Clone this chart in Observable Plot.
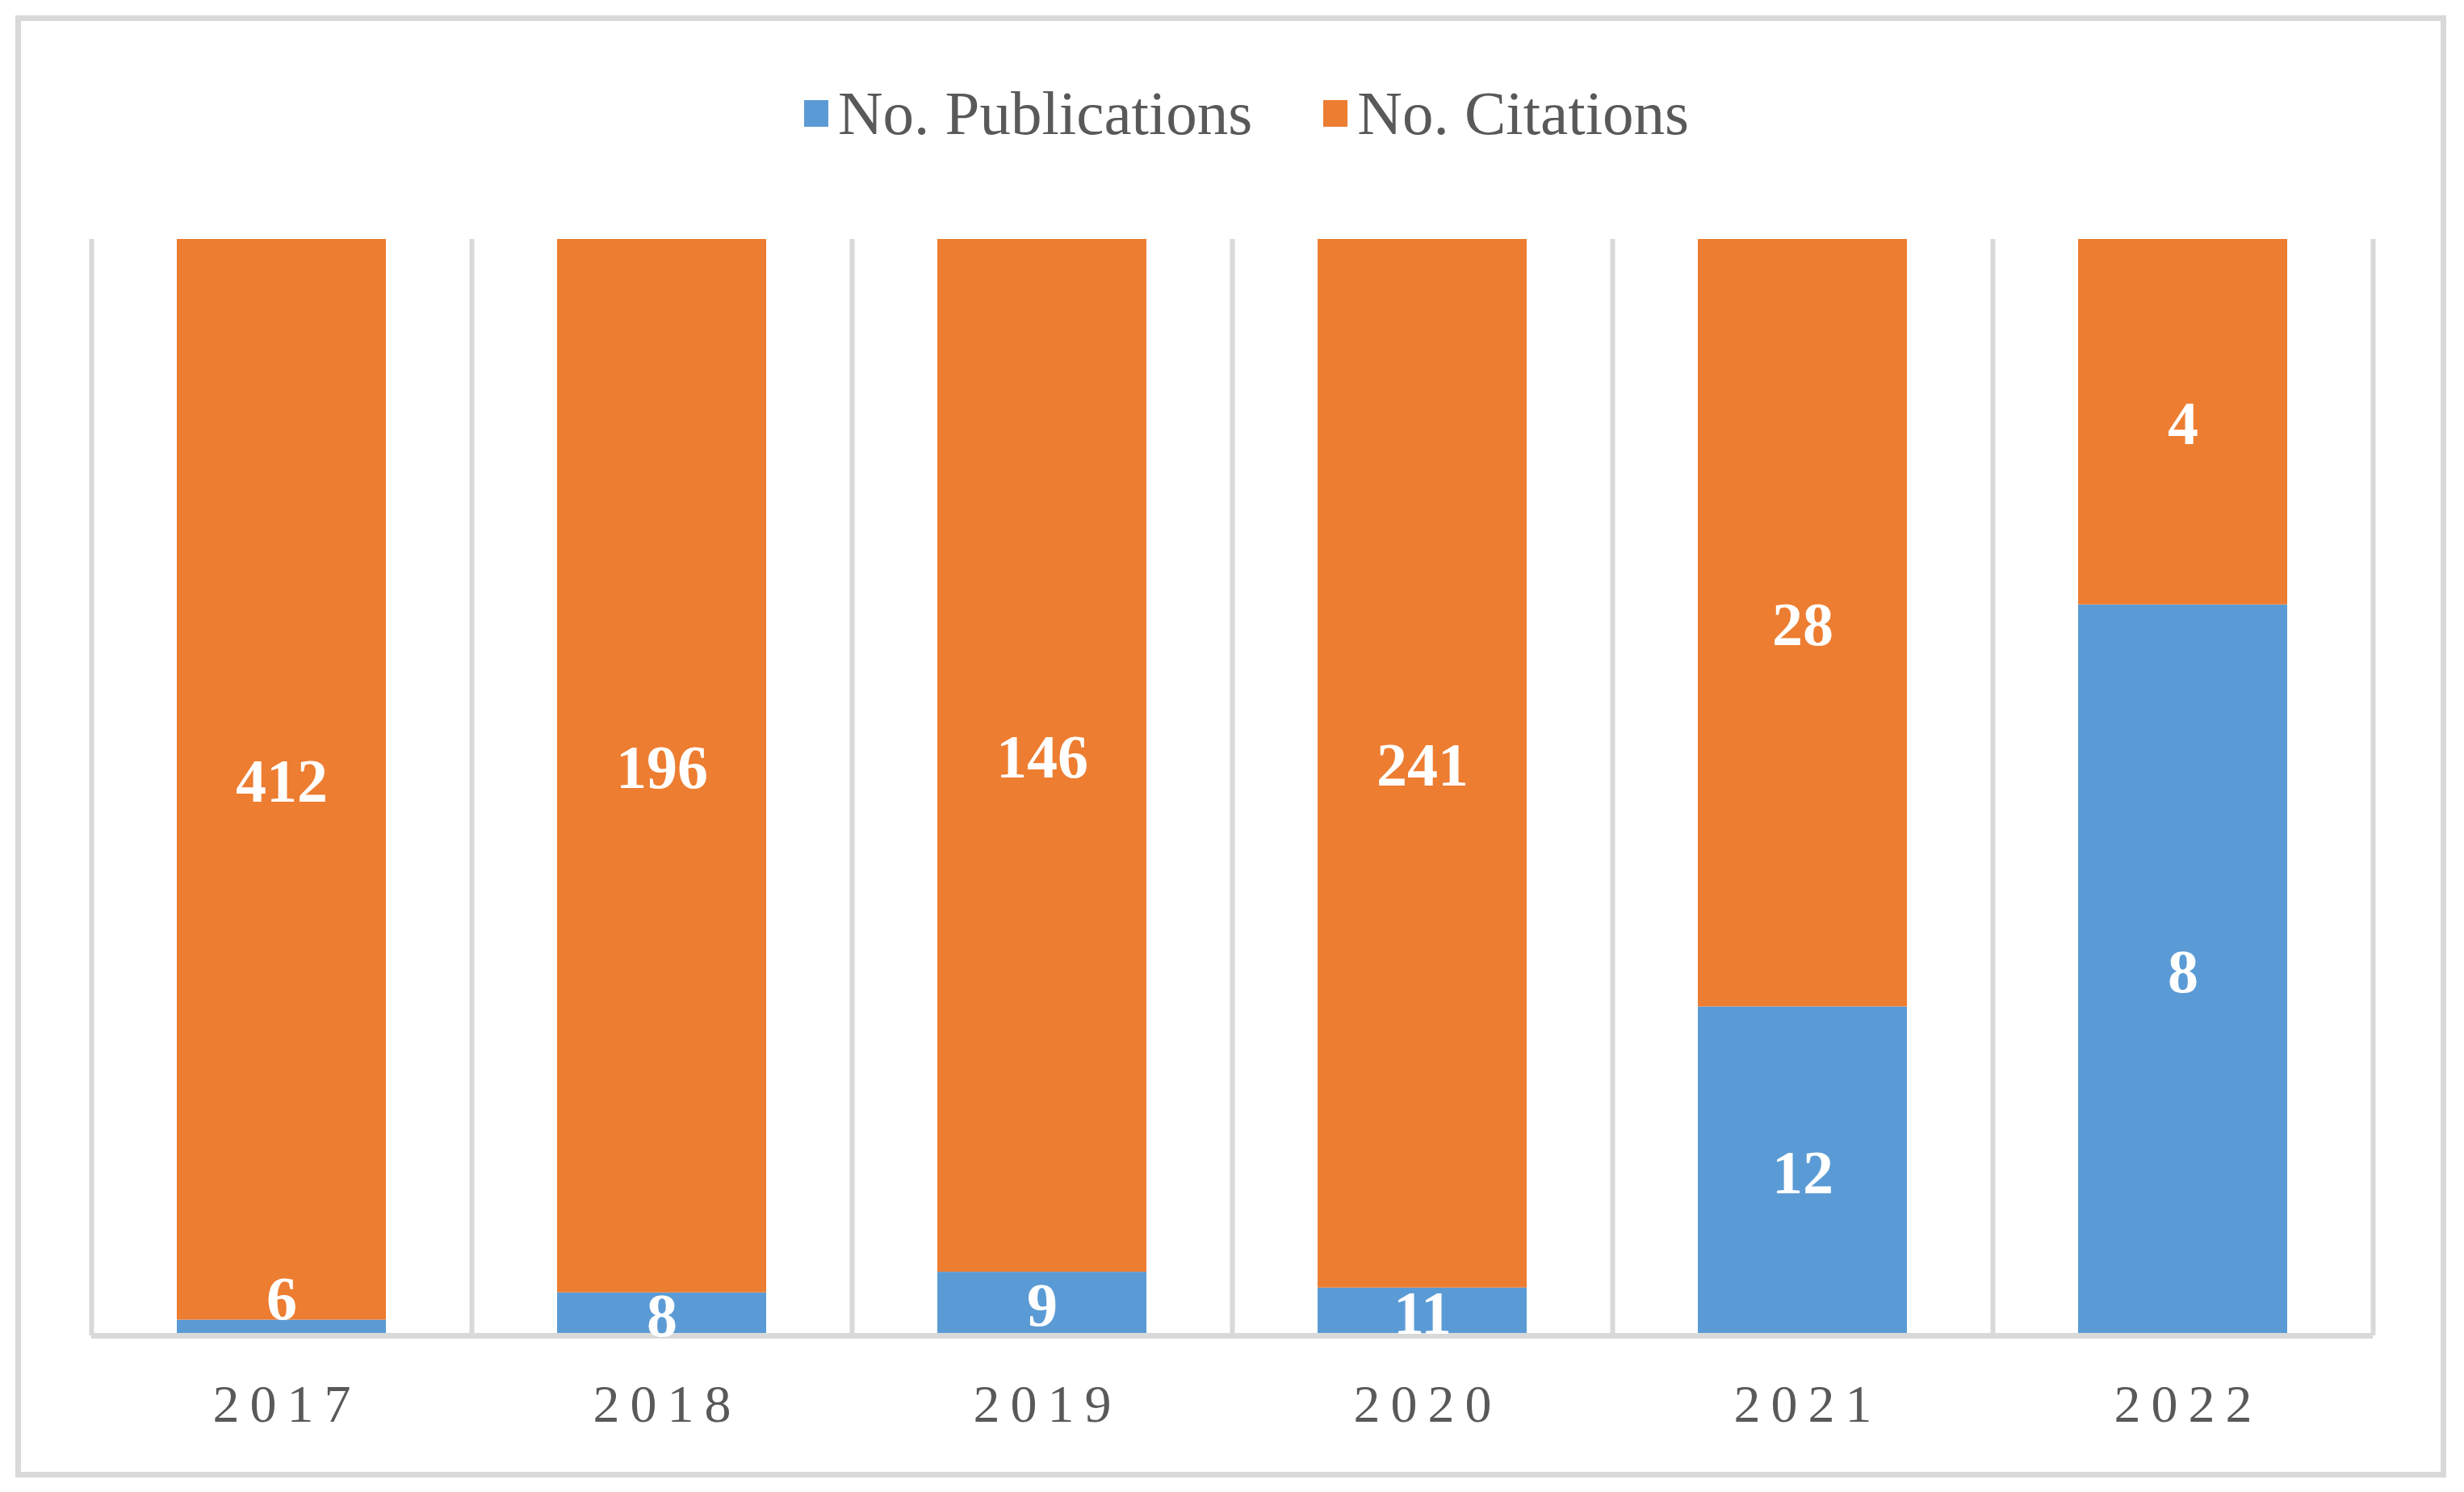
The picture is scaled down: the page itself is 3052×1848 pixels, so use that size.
<!DOCTYPE html>
<html>
<head>
<meta charset="utf-8">
<script src="https://cdn.jsdelivr.net/npm/d3@7"></script>
<script src="https://cdn.jsdelivr.net/npm/@observablehq/plot@0.6"></script>
<style>
  html, body { margin: 0; padding: 0; background: #ffffff; }
  #wrap { position: relative; width: 3052px; height: 1848px; font-family: "Liberation Serif", "Times New Roman", serif; }
  #frame { position: absolute; left: 19px; top: 19px; width: 3011px; height: 1811px; box-sizing: border-box; border: 7px solid #d9d9d9; }
  #legend { position: absolute; left: 0; top: 95px; width: 3052px; height: 90px; display: flex; justify-content: center; align-items: center; gap: 88px; padding-left: 36px; box-sizing: border-box; }
  .item { display: flex; align-items: center; gap: 12px; font-size: 77px; color: #595959; }
  .sw { width: 30px; height: 33px; }
  #chart { position: absolute; left: 0; top: 0; }
  g[aria-label="x-axis tick label"] text { letter-spacing: 13px; }
</style>
</head>
<body>
<div id="wrap">
  <div id="frame"></div>
  <div id="legend"></div>
  <div id="chart"></div>
</div>
<script>
const years = ["2017", "2018", "2019", "2020", "2021", "2022"];
const publications = [6, 8, 9, 11, 12, 8];
const citations = [412, 196, 146, 241, 28, 4];
const seriesNames = ["No. Publications", "No. Citations"];
const seriesColors = ["#5B9BD5", "#ED7D31"];

const W = 3052, H = 1848;
const mL = 113, mR = 113, mT = 296, mB = 194;
const step = (W - mL - mR) / years.length;
const serif = '"Liberation Serif", "Times New Roman", serif';

const data = years.flatMap((y, i) => [
  {year: y, series: seriesNames[0], value: publications[i], total: publications[i] + citations[i]},
  {year: y, series: seriesNames[1], value: citations[i], total: publications[i] + citations[i]}
]);
const small = d => d.value / d.total < 0.02;

// legend
const legend = document.getElementById("legend");
seriesNames.forEach((s, i) => {
  const it = document.createElement("div");
  it.className = "item";
  const sw = document.createElement("div");
  sw.className = "sw";
  sw.style.background = seriesColors[i];
  const t = document.createElement("span");
  t.textContent = s;
  it.appendChild(sw); it.appendChild(t);
  legend.appendChild(it);
});

const stackOpts = {offset: "normalize", x: "year", y: "value", z: "series", order: seriesNames};

const chart = Plot.plot({
  width: W,
  height: H,
  marginTop: mT,
  marginBottom: mB,
  marginLeft: mL,
  marginRight: mR,
  style: {background: "transparent", fontFamily: serif},
  x: {domain: years, paddingInner: 0.45, paddingOuter: 0.225, label: null},
  y: {axis: null},
  color: {domain: seriesNames, range: seriesColors},
  marks: [
    Plot.ruleX(years, {x: d => d, dx: -step / 2, stroke: "#d9d9d9", strokeWidth: 6}),
    Plot.ruleX([years[years.length - 1]], {x: d => d, dx: step / 2, stroke: "#d9d9d9", strokeWidth: 6}),
    Plot.barY(data, Plot.stackY({...stackOpts, fill: "series"})),
    Plot.ruleY([0], {stroke: "#d9d9d9", strokeWidth: 7}),
    Plot.text(data, Plot.stackY({...stackOpts, text: d => small(d) ? null : String(d.value),
      fill: "white", fontWeight: "bold", fontSize: 76, fontFamily: serif, dy: 3})),
    Plot.text(data, Plot.stackY({...stackOpts, text: d => small(d) ? String(d.value) : null,
      fill: "white", fontWeight: "bold", fontSize: 76, fontFamily: serif, dy: -35})),
    Plot.axisX({tickSize: 0, tickPadding: 60, fontSize: 66, fontFamily: serif, fill: "#595959", dx: 6.5, label: null})
  ]
});
document.getElementById("chart").appendChild(chart);
</script>
</body>
</html>
